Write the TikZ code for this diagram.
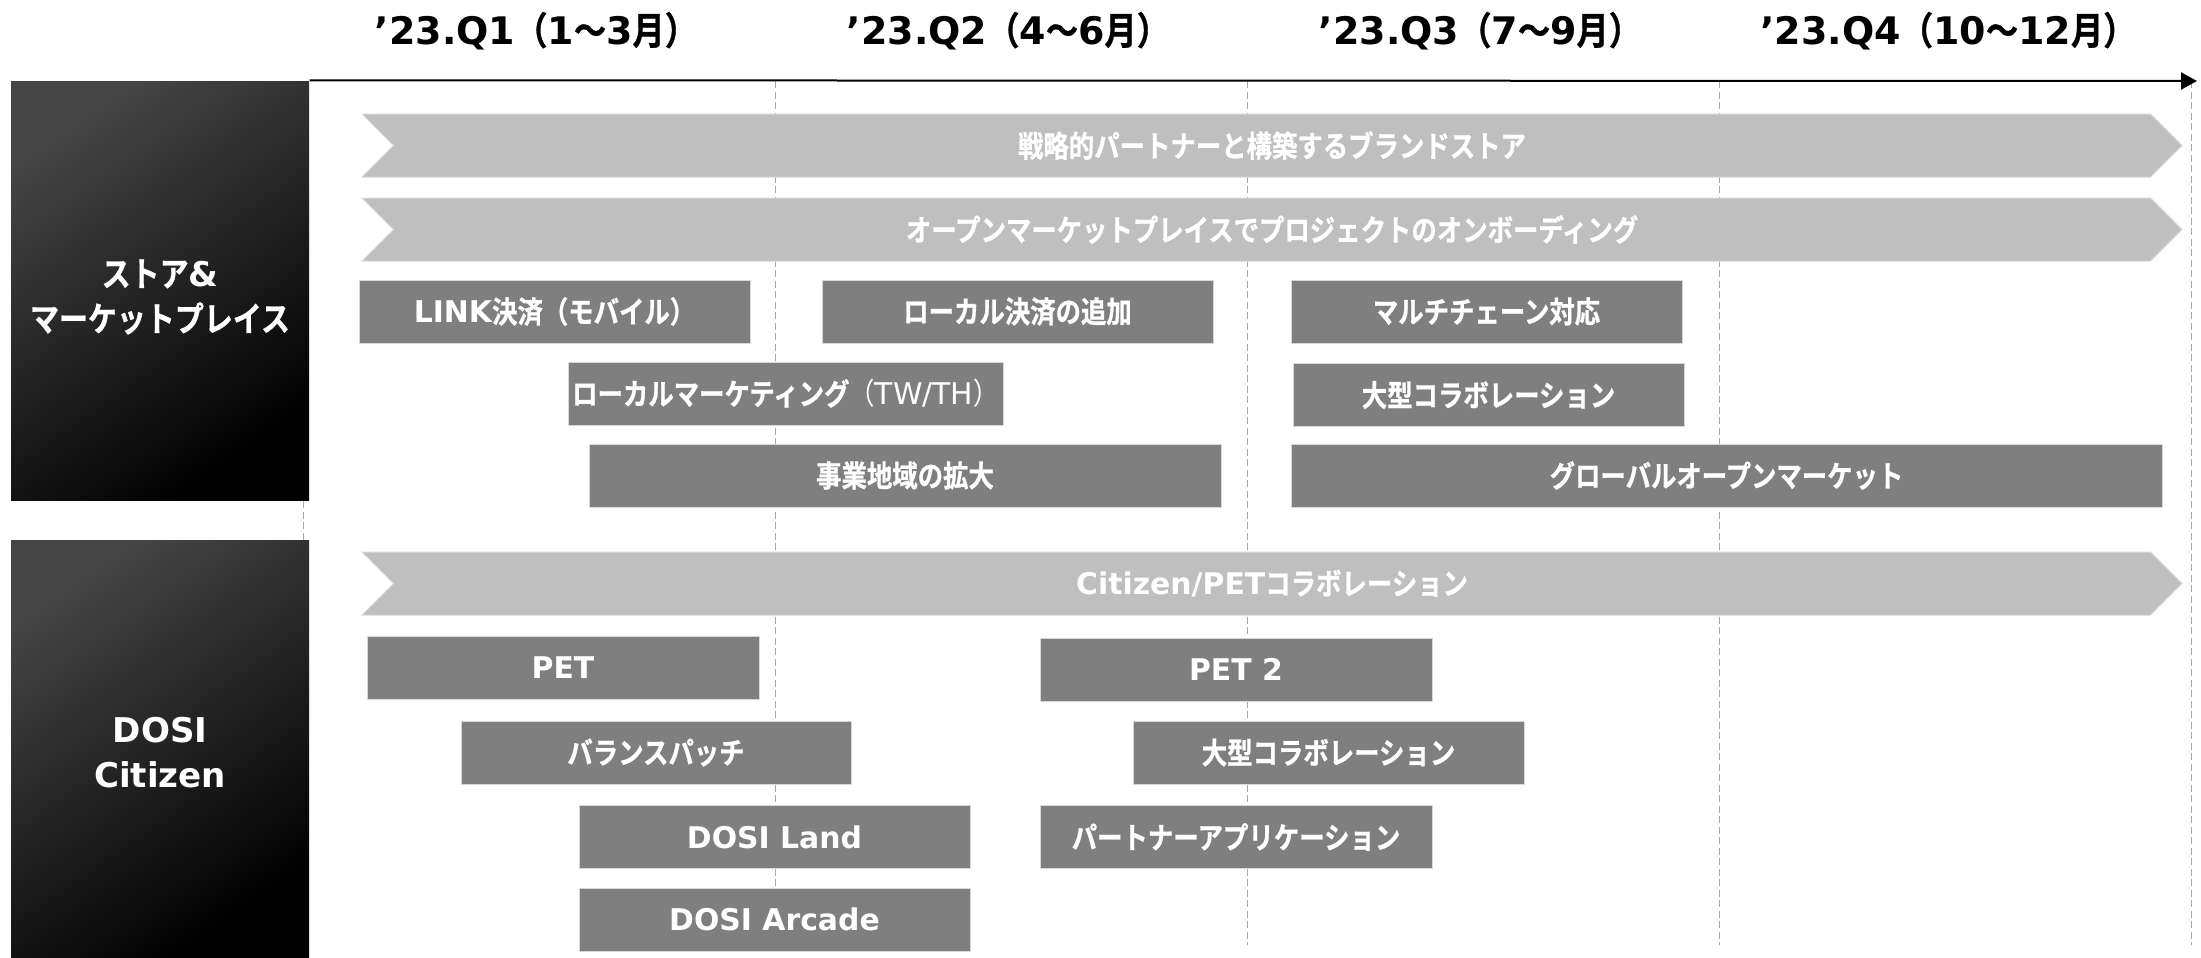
\documentclass[tikz,border=0pt]{standalone}
\usepackage{fontspec}
\usepackage{xcolor}
\usepackage{tikz}
\usetikzlibrary{positioning, shapes.symbols, arrows.meta}

\setmainfont{DejaVu Sans}
\newfontfamily\jpfont{Noto Sans CJK JP}[BoldFont={* Bold}, BoldFeatures={FakeBold=0.8}, FakeStretch=0.85]
\newfontfamily\enfont{DejaVu Sans}
\newcommand{\en}[1]{{\enfont #1}}

\definecolor{taskgray}{HTML}{7F7F7F}
\definecolor{bargray}{HTML}{BFBFBF}
\definecolor{edgegray}{HTML}{D9D9D9}
\definecolor{qgray}{HTML}{A6A6A6}
\definecolor{lanetop}{HTML}{454545}

\begin{document}
\begin{tikzpicture}[x=0.1mm, y=-0.1mm, on grid,
        lane/.style={rectangle, top color=lanetop, bottom color=black, shading angle=35, minimum width=29.8mm, inner sep=0},
        lanetext/.style={text=white, align=center, font=\jpfont\bfseries\fontsize{9.7}{12.8}\selectfont, inner sep=0},
        task/.style={rectangle, fill=taskgray, draw=edgegray, line width=0.1mm, text=white,
                font=\jpfont\bfseries\fontsize{8.5}{10}\selectfont, minimum height=6.3mm, inner sep=0},
        bar/.style={signal, signal from=west, signal to=east, fill=bargray, draw=edgegray, line width=0.1mm, text=white,
                font=\jpfont\bfseries\fontsize{8.5}{10}\selectfont, minimum width=182mm, minimum height=6.3mm, inner sep=0},
        quarter/.style={font=\jpfont\bfseries\fontsize{10.8}{12}\selectfont, inner sep=0},
        qline/.style={qgray, line width=0.1mm, dash pattern=on 0.7mm off 0.35mm}]
        \useasboundingbox (0,0) rectangle (2201,957);

        \foreach \x in {303,775,1247,1719,2191}
                \draw[qline] (\x,81) -- (\x,945);

        \node[quarter] (q1) at (536,31) {\en{’23.Q1}（\en{1}～\en{3}月）};
        \node[quarter] (q2) at (1008,31) {\en{’23.Q2}（\en{4}～\en{6}月）};
        \node[quarter] (q3) at (1480,31) {\en{’23.Q3}（\en{7}～\en{9}月）};
        \node[quarter] (q4) at (1948,31) {\en{’23.Q4}（\en{10}～\en{12}月）};

        \node[lane, minimum height=41.9mm] (store) at (160,290.5) {};
        \node[lane, minimum height=41.7mm] (citizen) at (160,748.5) {};
        \node[lanetext] (storetext) at (160,297) {ストア\en{\&}\\マーケットプレイス};
        \node[lanetext] (citizentext) at (160,753) {\en{DOSI}\\\en{Citizen}};

        \coordinate (axisend) at (2197,81);
        \draw[-{Triangle[length=1.6mm, width=1.7mm]}, line width=0.2mm] (store.north east) -- (axisend);

        \node[bar] (brand) at (1272,145.5) {戦略的パートナーと構築するブランドストア};
        \node[bar] (onboard) at (1272,229.5) {オープンマーケットプレイスでプロジェクトのオンボーディング};

        \node[task, minimum width=39.1mm] (link) at (554.5,311.5) {\en{LINK}決済（モバイル）};
        \node[task, minimum width=39.1mm] (localpay) at (1017.5,311.5) {ローカル決済の追加};
        \node[task, minimum width=39.1mm] (multichain) at (1486.5,311.5) {マルチチェーン対応};
        \node[task, minimum width=43.5mm] (localmkt) at (785.5,393.5) {ローカルマーケティング{\mdseries （\en{TW/TH}）}};
        \node[task, minimum width=39.1mm] (bigcollab) at (1488.5,395) {大型コラボレーション};
        \node[task, minimum width=63.2mm] (region) at (905,475.5) {事業地域の拡大};
        \node[task, minimum width=87.1mm] (global) at (1726.5,475.5) {グローバルオープンマーケット};

        \node[bar] (collab) at (1272,583.5) {\en{Citizen/PET}コラボレーション};

        \node[task, minimum width=39.2mm] (pet) at (563,668) {\en{PET}};
        \node[task, minimum width=39.2mm] (pet2) at (1236,669.5) {\en{PET 2}};
        \node[task, minimum width=39mm] (balance) at (656,752.5) {バランスパッチ};
        \node[task, minimum width=39.1mm] (petcollab) at (1328.5,752.5) {大型コラボレーション};
        \node[task, minimum width=39.1mm] (land) at (774.5,837) {\en{DOSI Land}};
        \node[task, minimum width=39.2mm] (partner) [below=16.75mm of pet2] {パートナーアプリケーション};
        \node[task, minimum width=39.1mm] (arcade) [below=8.25mm of land] {\en{DOSI Arcade}};
\end{tikzpicture}
\end{document}
